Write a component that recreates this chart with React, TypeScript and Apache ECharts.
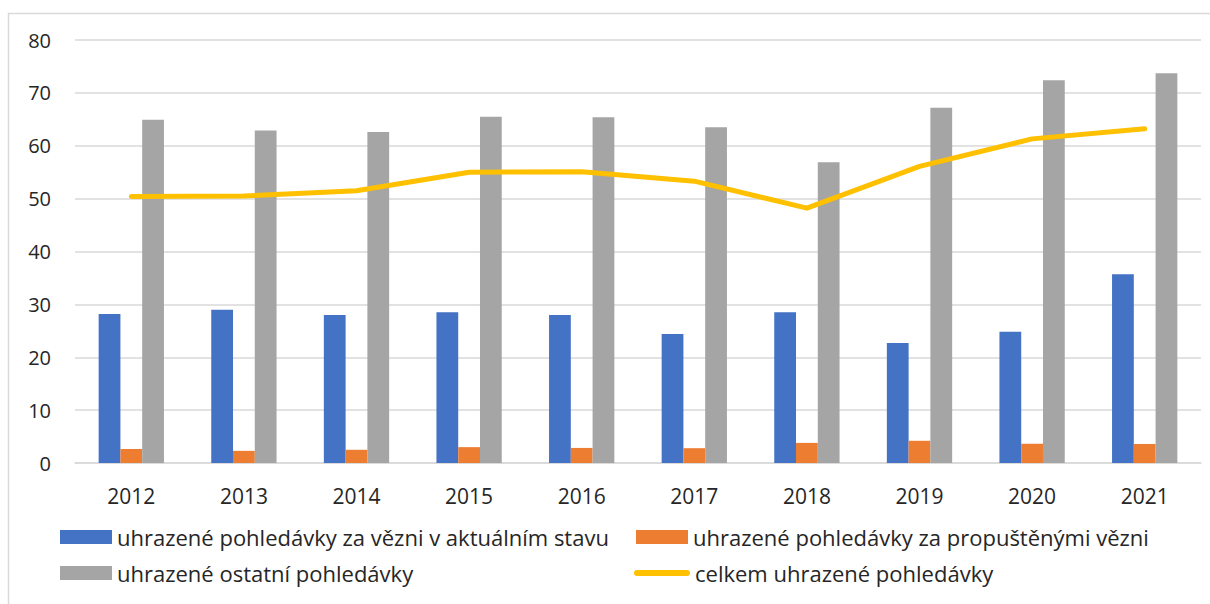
import React, { useEffect, useRef } from "react";
import * as echarts from "echarts";

const years = ["2012", "2013", "2014", "2015", "2016", "2017", "2018", "2019", "2020", "2021"];
const vezniAktualni = [28.2, 29.0, 28.0, 28.5, 28.0, 24.4, 28.5, 22.7, 24.8, 35.7];
const vezniPropusteni = [2.65, 2.3, 2.5, 3.0, 2.85, 2.8, 3.8, 4.2, 3.65, 3.6];
const ostatni = [64.9, 62.9, 62.6, 65.5, 65.4, 63.5, 56.9, 67.2, 72.4, 73.7];
const celkem = [50.4, 50.5, 51.5, 55.0, 55.1, 53.3, 48.2, 56.1, 61.3, 63.2];

const names = [
  "uhrazené pohledávky za vězni v aktuálním stavu",
  "uhrazené pohledávky za propuštěnými vězni",
  "uhrazené ostatní pohledávky",
  "celkem uhrazené pohledávky",
];

const FONT = "Open Sans";
const TXT = "#262626";

export default function App() {
  const ref = useRef<HTMLDivElement>(null);
  useEffect(() => {
    if (!ref.current) return;
    const chart = echarts.init(ref.current, null, { renderer: "svg" });
    const legendText = { fontFamily: FONT, fontSize: 22, color: TXT };
    const baseLegend = {
      padding: 0,
      itemWidth: 52,
      itemHeight: 14,
      itemGap: 0,
      textStyle: legendText,
      selectedMode: false,
      icon: "rect",
    };
    chart.setOption({
      animation: false,
      backgroundColor: "#fff",
      graphic: [
        {
          type: "rect",
          shape: { x: 8.5, y: 13.5, width: 1220, height: 620 },
          style: { fill: "none", stroke: "#d9d9d9", lineWidth: 1.5 },
          silent: true,
        },
      ],
      grid: { left: 75, right: 9, top: 40, bottom: 141, containLabel: false },
      legend: [
        { ...baseLegend, data: [names[0]], left: 60, top: 526 },
        { ...baseLegend, data: [names[1]], left: 636, top: 526 },
        { ...baseLegend, data: [names[2]], left: 60, top: 562 },
        {
          ...baseLegend,
          data: [names[3]],
          left: 634,
          top: 562,
          itemWidth: 56,
          itemHeight: 6,
          icon: "path://M3,0H53A3,3 0 0 1 53,6H3A3,3 0 0 1 3,0Z",
        },
      ],
      xAxis: {
        type: "category",
        data: years,
        axisTick: { show: false },
        axisLine: { lineStyle: { color: "#d9d9d9", width: 1.5 } },
        axisLabel: { fontFamily: FONT, fontSize: 21, color: TXT, margin: 22 },
      },
      yAxis: {
        type: "value",
        min: 0,
        max: 80,
        interval: 10,
        axisLine: { show: false },
        axisTick: { show: false },
        splitLine: { lineStyle: { color: "#d9d9d9", width: 1.5 } },
        axisLabel: { fontFamily: FONT, fontSize: 20, color: TXT, margin: 24 },
      },
      series: [
        {
          name: names[0],
          type: "bar",
          data: vezniAktualni,
          itemStyle: { color: "#4472C4" },
          barGap: "0%",
          barCategoryGap: "42%",
        },
        {
          name: names[1],
          type: "bar",
          data: vezniPropusteni,
          itemStyle: { color: "#ED7D31" },
          barGap: "0%",
          barCategoryGap: "42%",
        },
        {
          name: names[2],
          type: "bar",
          data: ostatni,
          itemStyle: { color: "#A5A5A5" },
          barGap: "0%",
          barCategoryGap: "42%",
        },
        {
          name: names[3],
          type: "line",
          data: celkem,
          symbol: "none",
          color: "#FFC000",
          itemStyle: { color: "#FFC000" },
          lineStyle: { color: "#FFC000", width: 5, cap: "round", join: "round" },
          z: 5,
        },
      ],
    });
    return () => chart.dispose();
  }, []);
  return (
    <div
      ref={ref}
      style={{ position: "fixed", left: 0, top: 0, width: 1210, height: 604, background: "#fff" }}
    />
  );
}
